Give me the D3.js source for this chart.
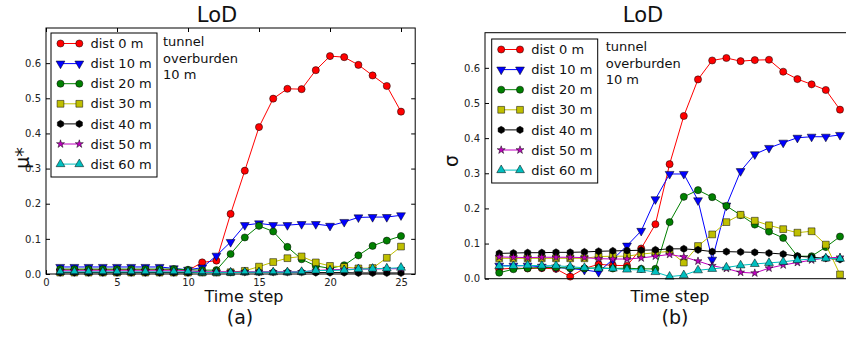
<!DOCTYPE html>
<head>
  <meta charset="utf-8">
  <title>LoD</title>
</head>
<style>
  body { margin: 0; background: #fff; }
  svg { display: block; font-family: "DejaVu Sans", sans-serif; }
  .tick text { fill: #222; }
</style>
<body>
<svg id="chart" width="846" height="338"></svg>
<script src="https://cdn.jsdelivr.net/npm/d3@7/dist/d3.min.js"></script>
<script>
  // time steps 1..25
  var steps = d3.range(1, 26);
  var seriesNames = ["dist 0 m", "dist 10 m", "dist 20 m", "dist 30 m", "dist 40 m", "dist 50 m", "dist 60 m"];
  var xTicks = [0, 5, 10, 15, 20, 25];
  var yTicks = [0.0, 0.1, 0.2, 0.3, 0.4, 0.5, 0.6];
  var noteLines = ["tunnel", "overburden", "10 m"];

  // (a) mu*
  var mu0  = [0.012, 0.012, 0.012, 0.012, 0.012, 0.012, 0.012, 0.012, 0.012, 0.010, 0.033, 0.038, 0.171, 0.294, 0.418, 0.499, 0.527, 0.526, 0.580, 0.620, 0.617, 0.595, 0.565, 0.535, 0.462];
  var mu10 = [0.020, 0.020, 0.020, 0.020, 0.020, 0.020, 0.020, 0.020, 0.016, 0.012, 0.018, 0.052, 0.091, 0.139, 0.144, 0.139, 0.139, 0.142, 0.142, 0.137, 0.148, 0.161, 0.162, 0.162, 0.167];
  var mu20 = [0.014, 0.014, 0.014, 0.014, 0.014, 0.014, 0.014, 0.014, 0.014, 0.012, 0.011, 0.011, 0.057, 0.104, 0.137, 0.121, 0.077, 0.042, 0.023, 0.016, 0.025, 0.053, 0.080, 0.095, 0.108];
  var mu30 = [0.004, 0.004, 0.004, 0.004, 0.004, 0.004, 0.004, 0.004, 0.004, 0.004, 0.004, 0.004, 0.005, 0.009, 0.021, 0.034, 0.045, 0.050, 0.033, 0.023, 0.020, 0.016, 0.017, 0.046, 0.078];
  var mu40 = [0.004, 0.004, 0.004, 0.004, 0.004, 0.004, 0.004, 0.004, 0.004, 0.004, 0.005, 0.005, 0.005, 0.005, 0.005, 0.005, 0.005, 0.005, 0.004, 0.004, 0.004, 0.003, 0.003, 0.003, 0.003];
  var mu50 = [0.009, 0.009, 0.009, 0.009, 0.009, 0.009, 0.009, 0.009, 0.009, 0.009, 0.006, 0.006, 0.006, 0.006, 0.006, 0.006, 0.006, 0.006, 0.010, 0.012, 0.013, 0.014, 0.014, 0.015, 0.015];
  var mu60 = [0.006, 0.006, 0.006, 0.006, 0.006, 0.006, 0.006, 0.006, 0.006, 0.006, 0.004, 0.004, 0.004, 0.005, 0.005, 0.005, 0.005, 0.006, 0.010, 0.010, 0.011, 0.014, 0.015, 0.016, 0.018];

  // (b) sigma
  var s0  = [0.027, 0.030, 0.029, 0.030, 0.028, 0.006, 0.029, 0.041, 0.038, 0.037, 0.086, 0.155, 0.326, 0.463, 0.567, 0.621, 0.628, 0.619, 0.622, 0.623, 0.589, 0.568, 0.553, 0.537, 0.481];
  var s10 = [0.037, 0.037, 0.037, 0.034, 0.032, 0.029, 0.025, 0.019, 0.055, 0.094, 0.136, 0.226, 0.298, 0.298, 0.223, 0.054, 0.208, 0.306, 0.354, 0.372, 0.387, 0.401, 0.404, 0.404, 0.409];
  var s20 = [0.017, 0.027, 0.030, 0.032, 0.032, 0.030, 0.029, 0.031, 0.029, 0.030, 0.028, 0.028, 0.161, 0.233, 0.252, 0.232, 0.207, 0.181, 0.154, 0.134, 0.116, 0.064, 0.064, 0.090, 0.120];
  var s30 = [0.058, 0.058, 0.058, 0.058, 0.058, 0.058, 0.058, 0.063, 0.064, 0.064, 0.070, 0.074, 0.078, 0.046, 0.093, 0.126, 0.161, 0.182, 0.165, 0.152, 0.141, 0.131, 0.135, 0.097, 0.012];
  var s40 = [0.072, 0.073, 0.074, 0.074, 0.075, 0.075, 0.076, 0.078, 0.079, 0.080, 0.081, 0.082, 0.085, 0.085, 0.082, 0.077, 0.077, 0.076, 0.075, 0.073, 0.070, 0.064, 0.061, 0.058, 0.055];
  var s50 = [0.062, 0.061, 0.060, 0.061, 0.061, 0.061, 0.060, 0.057, 0.056, 0.056, 0.059, 0.064, 0.069, 0.062, 0.050, 0.037, 0.029, 0.018, 0.016, 0.030, 0.039, 0.046, 0.053, 0.059, 0.061];
  var s60 = [0.036, 0.036, 0.038, 0.037, 0.037, 0.034, 0.031, 0.029, 0.029, 0.026, 0.025, 0.019, 0.006, 0.010, 0.024, 0.028, 0.032, 0.038, 0.042, 0.045, 0.048, 0.053, 0.056, 0.058, 0.057];

  var colors = ["#ff0000", "#0000ff", "#008000", "#bfbf00", "#000000", "#bf00bf", "#00bfbf"];

  // hexagon marker (matplotlib 'h')
  var symbolHexagon = {
    draw: function(ctx, size) {
      var r = Math.sqrt(size / (1.5 * Math.sqrt(3)));
      for (var i = 0; i < 6; i++) {
        var a = Math.PI / 6 + i * Math.PI / 3;
        if (i === 0) ctx.moveTo(r * Math.cos(a), r * Math.sin(a));
        else ctx.lineTo(r * Math.cos(a), r * Math.sin(a));
      }
      ctx.closePath();
    }
  };
  var markers = [
    { type: d3.symbolCircle, size: 40, rot: 0 },
    { type: d3.symbolTriangle, size: 34, rot: 180 },
    { type: d3.symbolCircle, size: 40, rot: 0 },
    { type: d3.symbolSquare, size: 46, rot: 0 },
    { type: symbolHexagon, size: 34, rot: 0 },
    { type: d3.symbolStar, size: 20, rot: 0 },
    { type: d3.symbolTriangle, size: 34, rot: 0 }
  ];

  var svg = d3.select('#chart');

  function translate(x, y) {
    return 'translate(' + x + ', ' + y + ')';
  }

  function drawPanel(p) {
    var x = d3.scaleLinear().domain([0, 26]).range([p.left, p.left + 369.2]);
    var y = d3.scaleLinear().domain([0, 0.7]).range([p.bottom, p.top]);
    var g = svg.append('g');

    // y ticks inside, both sides
    var yAxisL = d3.axisLeft(y).tickValues(yTicks).tickFormat(d3.format('.1f'))
                   .tickSizeInner(-4).tickSizeOuter(0).tickPadding(5);
    g.append('g').attr('transform', translate(p.left, 0)).call(yAxisL)
      .call(s => s.select('.domain').remove())
      .call(s => s.selectAll('text').attr('font-size', 10).attr('font-family', 'DejaVu Sans'));
    g.append('g').attr('transform', translate(p.left + 369.2, 0))
      .call(d3.axisRight(y).tickValues(yTicks).tickFormat('').tickSizeInner(-4).tickSizeOuter(0))
      .call(s => s.select('.domain').remove());

    if (p.xLabels) {
      g.append('g').attr('transform', translate(0, p.bottom))
        .call(d3.axisBottom(x).tickValues(xTicks).tickSizeInner(-4).tickSizeOuter(0).tickPadding(5))
        .call(s => s.select('.domain').remove())
        .call(s => s.selectAll('text').attr('font-size', 10).attr('font-family', 'DejaVu Sans'));
      g.append('g').attr('transform', translate(0, p.top))
        .call(d3.axisTop(x).tickValues(xTicks).tickFormat('').tickSizeInner(-4).tickSizeOuter(0))
        .call(s => s.select('.domain').remove());
    }

    var line = d3.line().x((d, i) => x(steps[i])).y(d => y(d));

    p.series.forEach(function(vals, k) {
      g.append('path')
        .attr('d', line(vals))
        .attr('fill', 'none')
        .attr('stroke', colors[k])
        .attr('stroke-width', 1);
      var sym = d3.symbol().type(markers[k].type).size(markers[k].size);
      g.selectAll('.m' + k)
        .data(vals)
        .enter().append('path')
          .attr('class', 'm' + k)
          .attr('d', sym)
          .attr('transform', (d, i) => translate(x(steps[i]), y(d)) + ' rotate(' + markers[k].rot + ')')
          .attr('fill', colors[k])
          .attr('stroke', '#000')
          .attr('stroke-width', 0.5);
    });

    // frame
    g.append('rect')
      .attr('x', p.left).attr('y', p.top)
      .attr('width', 369.2).attr('height', p.bottom - p.top)
      .attr('fill', 'none').attr('stroke', '#000').attr('stroke-width', 1);

    // legend
    var lg = g.append('g').attr('transform', translate(p.legX, p.legY));
    lg.append('rect')
      .attr('x', 0).attr('y', 0).attr('width', 106).attr('height', 144)
      .attr('fill', '#fff').attr('stroke', '#000').attr('stroke-width', 1);
    seriesNames.forEach(function(name, k) {
      var yy = 10.5 + k * 20.1;
      lg.append('line')
        .attr('x1', 9.5).attr('x2', 28.3).attr('y1', yy).attr('y2', yy)
        .attr('stroke', colors[k]).attr('stroke-width', 1);
      var sym = d3.symbol().type(markers[k].type).size(markers[k].size);
      [9.5, 28.3].forEach(function(xx) {
        lg.append('path')
          .attr('d', sym)
          .attr('transform', translate(xx, yy) + ' rotate(' + markers[k].rot + ')')
          .attr('fill', colors[k]).attr('stroke', '#000').attr('stroke-width', 0.5);
      });
      lg.append('text')
        .attr('x', 39.5).attr('y', yy).attr('dy', '0.36em')
        .attr('font-size', 13).attr('fill', '#111')
        .text(name);
    });

    // note
    noteLines.forEach(function(t, i) {
      g.append('text')
        .attr('x', p.noteX).attr('y', p.noteY + i * 16.3).attr('dy', '0.36em')
        .attr('font-size', 13).attr('fill', '#111')
        .text(t);
    });

    // titles
    g.append('text').attr('x', p.titleX).attr('y', 22).attr('text-anchor', 'middle')
      .attr('font-size', 21).attr('fill', '#111').text('LoD');
    g.append('text').attr('x', p.xlabX).attr('y', 302).attr('text-anchor', 'middle')
      .attr('font-size', 16).attr('fill', '#111').text('Time step');
    g.append('text').attr('x', p.capX).attr('y', 324).attr('text-anchor', 'middle')
      .attr('font-size', 19).attr('fill', '#111').text(p.cap);
    g.append('text')
      .attr('transform', translate(p.ylabX, p.ylabY) + ' rotate(-90)')
      .attr('text-anchor', 'middle').attr('dy', '0.36em')
      .attr('font-size', 19).attr('fill', '#111').text(p.ylab);
  }

  drawPanel({
    left: 46, top: 28, bottom: 274, xLabels: true,
    series: [mu0, mu10, mu20, mu30, mu40, mu50, mu60],
    legX: 51, legY: 33, noteX: 163, noteY: 41.7,
    titleX: 217, xlabX: 244, capX: 240, cap: '(a)',
    ylabX: 22, ylabY: 158, ylab: 'μ*'
  });

  drawPanel({
    left: 485, top: 32.7, bottom: 278.7, xLabels: false,
    series: [s0, s10, s20, s30, s40, s50, s60],
    legX: 491.7, legY: 39, noteX: 605.7, noteY: 46.7,
    titleX: 643, xlabX: 670, capX: 675, cap: '(b)',
    ylabX: 451, ylabY: 161, ylab: 'σ'
  });
</script>
</body>
